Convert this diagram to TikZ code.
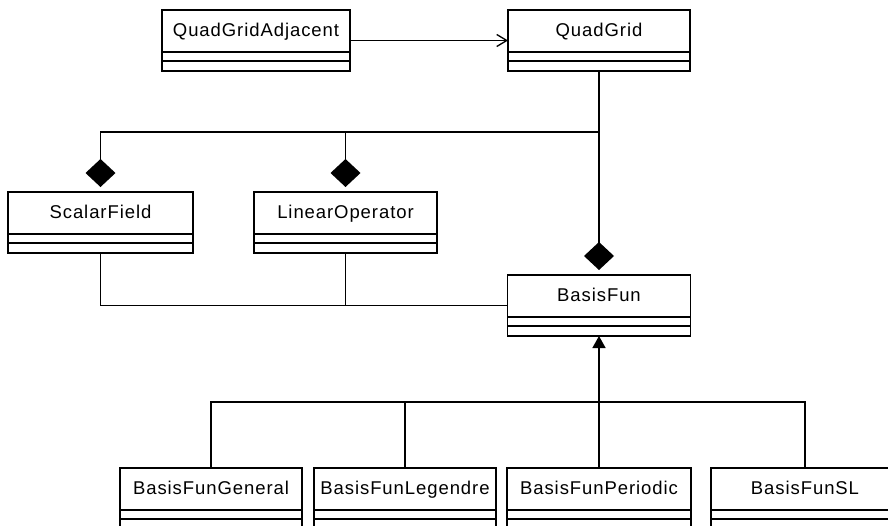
\documentclass[tikz,border=0pt]{standalone}
\usepackage{fontspec}
\setmainfont[LetterSpace=5]{Liberation Sans}
\usetikzlibrary{arrows.meta,calc}

% One UML class: name compartment plus two empty compartments below it.
% #1 node name, #2 centre x, #3 top y, #4 width, #5 class name
\newcommand{\umlcls}[5]{%
  \node[cls, minimum width=#4, anchor=north] (#1) at (#2,#3) {#5};
  \coordinate (#1-b) at ($(#1.south)+(0,19)$);
  \coordinate (#1-w) at ($(#1.north west)!0.5!($(#1.south west)+(0,19)$)$);
  \coordinate (#1-e) at ($(#1.north east)!0.5!($(#1.south east)+(0,19)$)$);
  \draw[ln] (#1.south west) -- ++(0,19) -| (#1.south east);
  \draw[ln] ($(#1.south west)+(0,9)$) -- ($(#1.south east)+(0,9)$);
}

\begin{document}
\begin{tikzpicture}[x=1pt,y=-1pt,
  ln/.style={line width=1.5pt, draw=black},
  cls/.style={draw=black, line width=1.5pt, rectangle, inner sep=0pt, outer sep=0pt,
    minimum height=42pt, text height=13.5pt, text depth=2pt,
    font=\fontsize{18.5pt}{21pt}\selectfont},
  compose/.style={ln, -{Diamond[length=28pt,width=30pt]}, shorten >=5pt},
  inherit/.style={ln, -{Triangle[length=12pt,width=13pt]}},
  assoc/.style={ln, -{Straight Barb[length=10pt,width=12pt,line width=1.3pt]}}]
\useasboundingbox (0,0) rectangle (888,525);
\clip (0,0) rectangle (888,525);

% classes
\umlcls{qga}{256}{10}{188}{QuadGridAdjacent}
\umlcls{qg}{599}{10}{182}{QuadGrid}
\umlcls{sf}{100.5}{192}{185}{ScalarField}
\umlcls{lo}{345.5}{192}{183}{LinearOperator}
\umlcls{bf}{599}{275}{183}{BasisFun}
\umlcls{bg}{211}{468}{182}{BasisFunGeneral}
\umlcls{bl}{405}{468}{182}{BasisFunLegendre}
\umlcls{bp}{599}{468}{184}{BasisFunPeriodic}
\umlcls{bs}{805}{468}{188}{BasisFunSL}

% junction points of the connector trees
\coordinate (jtop) at (599,132);
\coordinate (jbot) at (599,402);

% navigable association
\draw[assoc] (qga-e) -- (qg-w);

% compositions from QuadGrid
\draw[compose] (qg-b) -- (bf.north);
\draw[ln] (qg-b) -- (jtop);
\draw[compose] (jtop) -| (sf.north);
\draw[compose] (jtop) -| (lo.north);

% ScalarField and LinearOperator to BasisFun
\draw[ln] (sf-b) |- (bf-w);
\draw[ln] (lo-b) -- (lo-b |- bf-w);

% generalisation tree
\draw[inherit] (jbot) -- (bf-b);
\draw[ln] (bg.north) |- (jbot);
\draw[ln] (bl.north) -- (bl.north |- jbot);
\draw[ln] (bp.north) -- (jbot);
\draw[ln] (bs.north) |- (jbot);
\end{tikzpicture}
\end{document}
